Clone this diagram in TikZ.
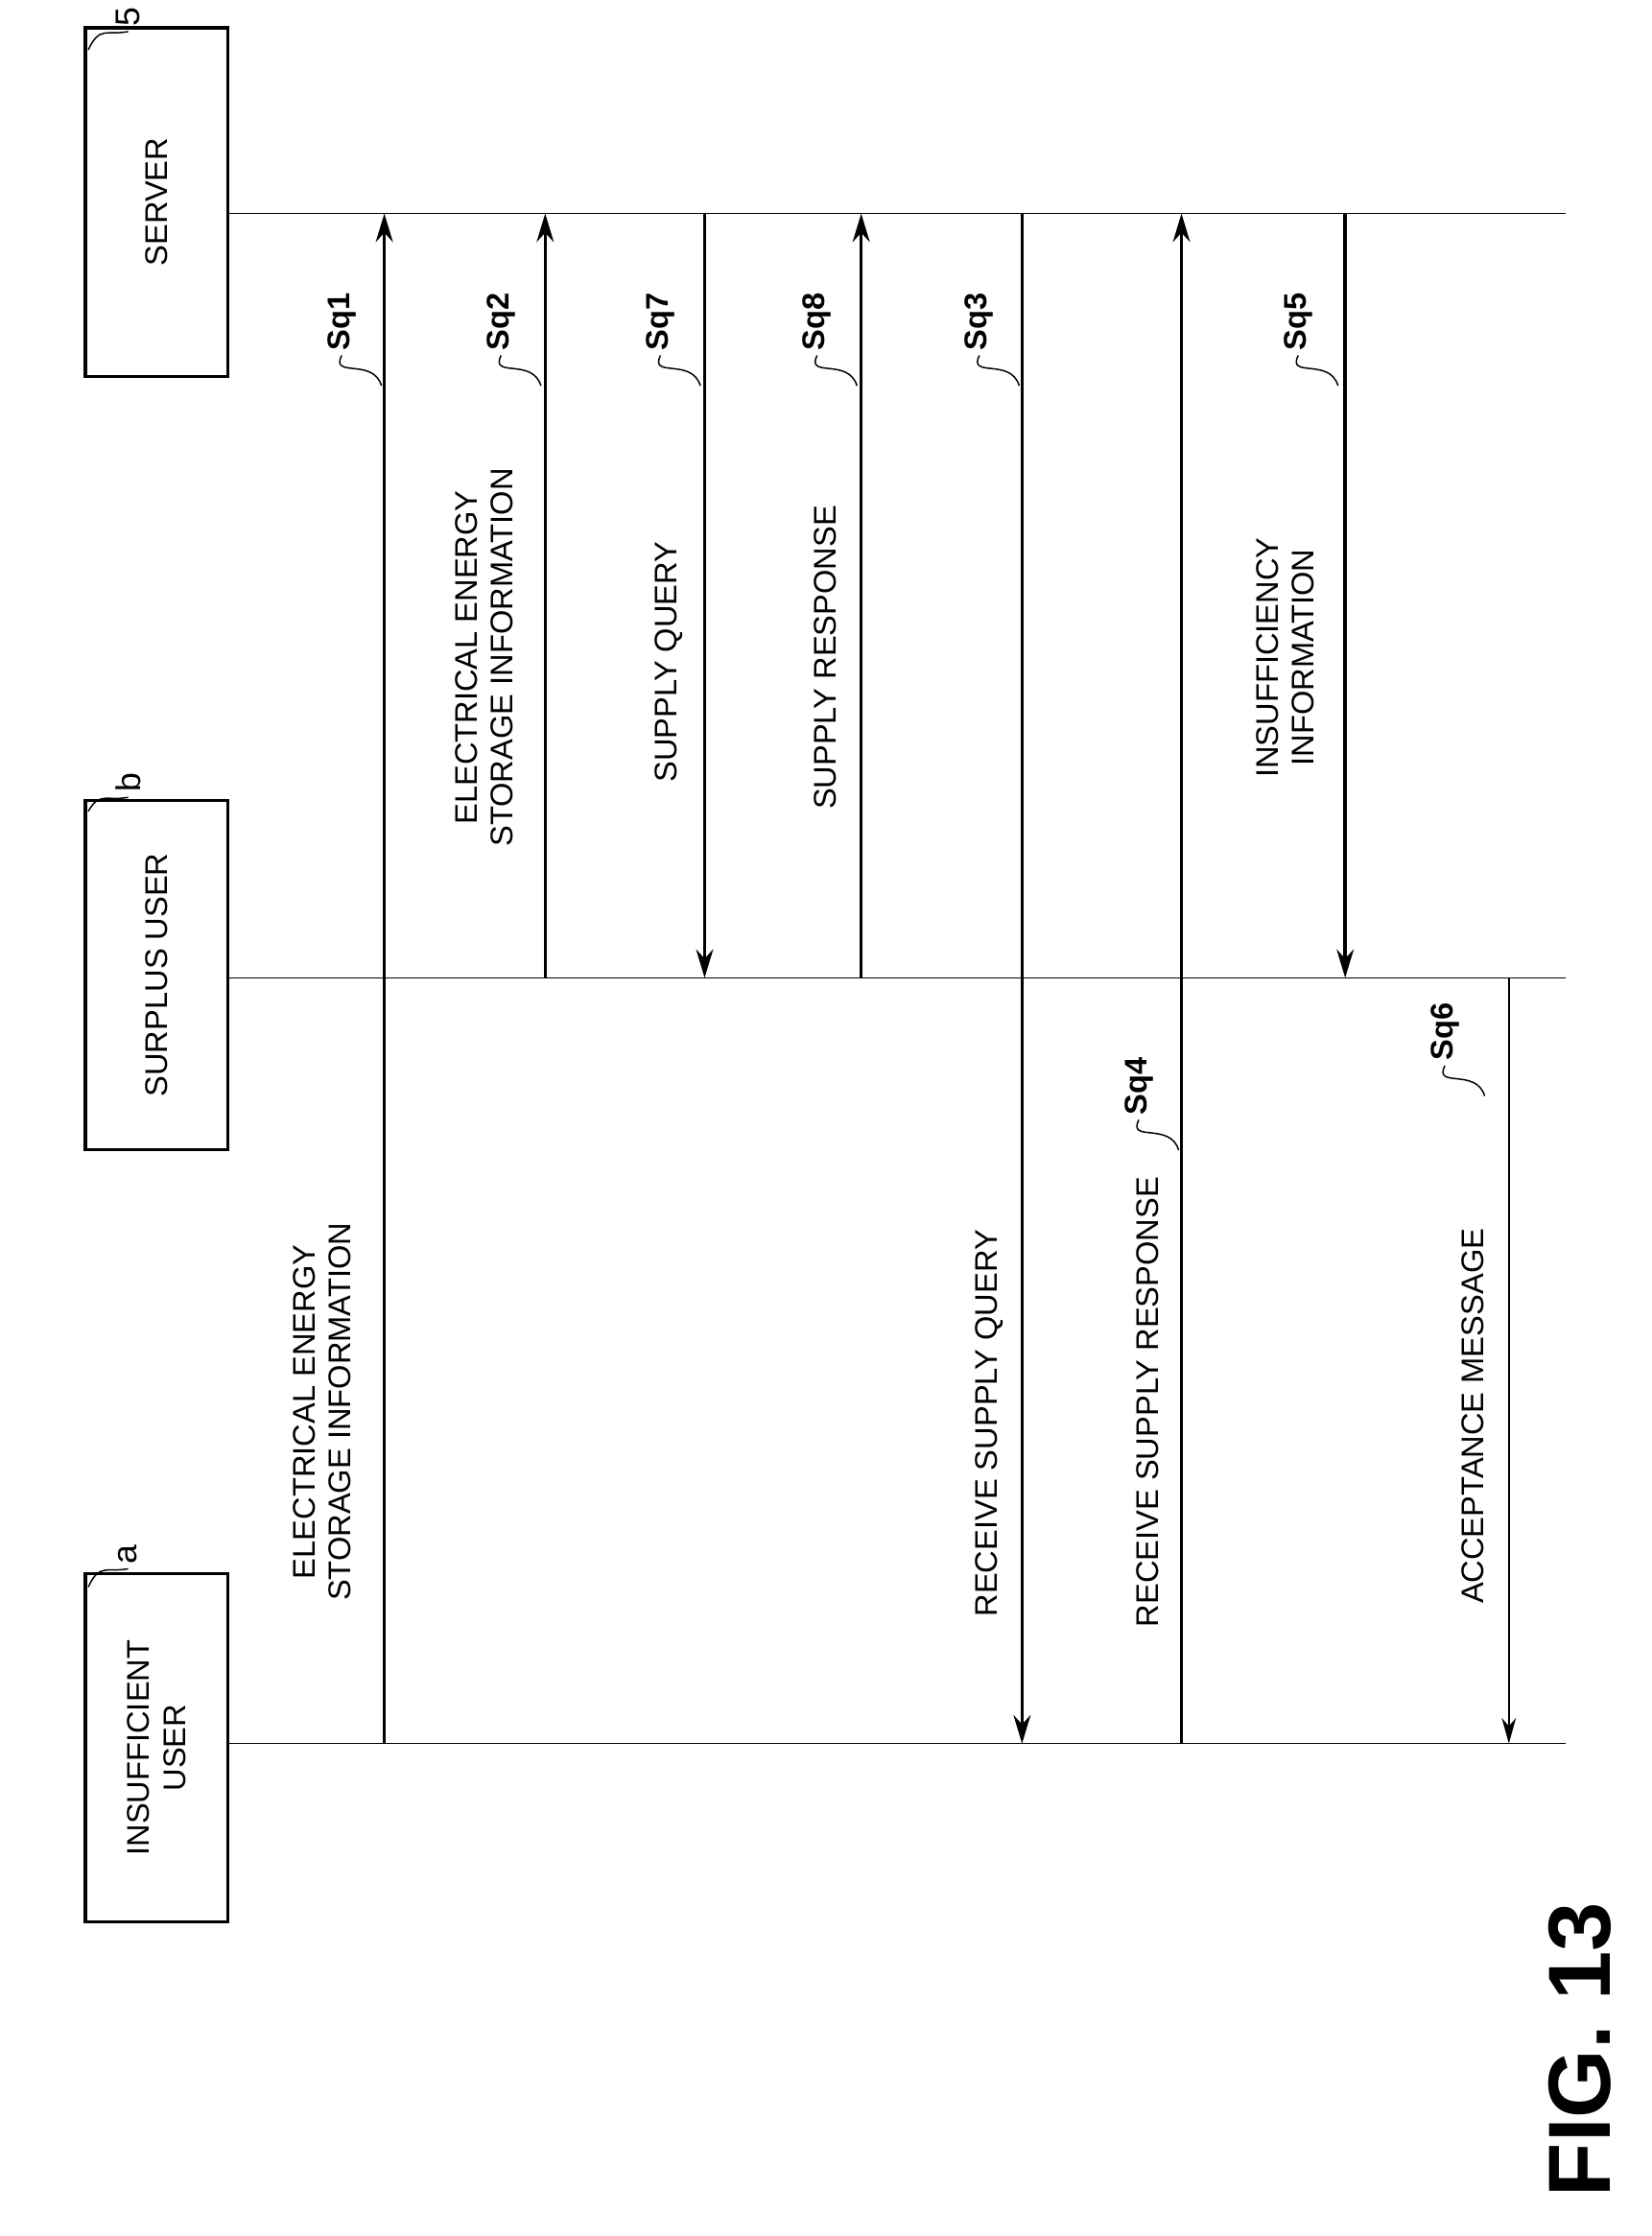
\documentclass[tikz,border=0pt]{standalone}
\usepackage{fontspec}
\setmainfont{Liberation Sans}
\usetikzlibrary{arrows.meta}
\begin{document}
\begin{tikzpicture}[x=1pt,y=-1pt,
  actor/.style={draw,line width=2.2pt,minimum width=245pt,minimum height=100pt,rotate=90,align=center,font=\fontsize{22}{26}\selectfont},
  life/.style={line width=1pt},
  msg/.style={line width=2.4pt,-{Stealth[length=20pt,width=12pt]}},
  lbl/.style={rotate=90,align=center,font=\fontsize{22}{25}\selectfont},
  sq/.style={rotate=90,font=\bfseries\fontsize{22}{25}\selectfont},
  lead/.style={line width=1pt}]
\useasboundingbox (0,0) rectangle (1160,1571);
% actors
\node[actor] (srv) at (110,142) {SERVER};
\node[actor] (sur) at (110,685) {SURPLUS USER};
\node[actor] (ins) at (110,1228) {INSUFFICIENT\\USER};
\node[font=\fontsize{24}{26}\selectfont,rotate=90] (n5) at (90,12) {5};
\node[font=\fontsize{24}{26}\selectfont,rotate=90] (nb) at (90,550) {b};
\node[font=\fontsize{24}{26}\selectfont,rotate=90] (na) at (90,1092) {a};
\draw[lead] (n5.west) .. controls (75,25) and (70,18) .. (62,35);
\draw[lead] (nb.west) .. controls (75,563) and (70,556) .. (62,570);
\draw[lead] (na.west) .. controls (75,1105) and (70,1098) .. (62,1115);
% lifelines
\coordinate (sE) at (1100,150);
\coordinate (uE) at (1100,687);
\coordinate (iE) at (1100,1225);
\draw[life] (160,150) -- (sE);
\draw[life] (160,687) -- (uE);
\draw[life] (160,1225) -- (iE);
% messages
\foreach \n/\x/\f/\t in {m1/270/1225/150, m2/383/687/150, m7/495/150/687, m8/605/687/150, m3/718/150/1225, m4/830/1225/150, m5/945/150/687}{
  \coordinate (\n a) at (\x,\f); \coordinate (\n b) at (\x,\t);
}
\coordinate (m6a) at (1060,687); \coordinate (m6b) at (1060,1225);
\foreach \n in {m1,m2,m7,m8,m3,m4,m5}{\draw[msg] (\n a) -- (\n b);}
\draw[line width=1pt,-{Stealth[length=18pt,width=10pt]}] (m6a) -- (m6b);
\draw[life] (1060,687) -- (1100,687);
% labels
\node[lbl] at (226,992) {ELECTRICAL ENERGY\\STORAGE INFORMATION};
\node[lbl] at (340,462) {ELECTRICAL ENERGY\\STORAGE INFORMATION};
\node[lbl] at (470,465) {SUPPLY QUERY};
\node[lbl] at (580,462) {SUPPLY RESPONSE};
\node[lbl] at (695,1000) {RECEIVE SUPPLY QUERY};
\node[lbl] at (806,985) {RECEIVE SUPPLY RESPONSE};
\node[lbl] at (903,462) {INSUFFICIENCY\\INFORMATION};
\node[lbl] at (1035,995) {ACCEPTANCE MESSAGE};
% sq labels
\foreach \x/\y/\t in {240/226/Sq1,352/226/Sq2,464/226/Sq7,574/226/Sq8,688/226/Sq3,912/226/Sq5,800/763/Sq4,1015/725/Sq6}{
  \node[sq] (s\t) at (\x,\y) {\t};
  \draw[lead] (s\t.west) .. controls (\x-8,\y+40) and (\x+22,\y+25) .. (\x+28,\y+45);
}
\node[rotate=90,font=\bfseries\fontsize{62}{66}\selectfont] (fig) at (1110,1440) {FIG. 13};
\end{tikzpicture}
\end{document}
